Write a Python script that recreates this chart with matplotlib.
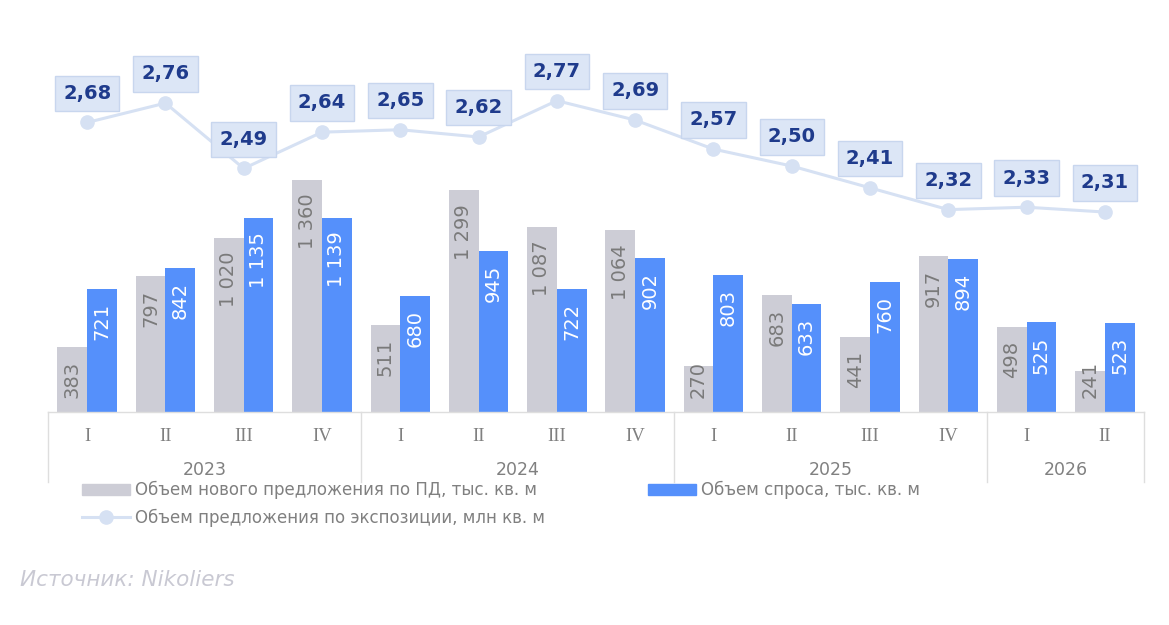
"""
Supply and demand by quarter, with exposure volume line
"""

import numpy as np
import matplotlib.pyplot as plt
from matplotlib.patches import Patch
from matplotlib.lines import Line2D

OUTFILE = "out.png"

GRAY = '#cdcdd6'
BLUE = '#5590fb'
LINE = '#d6e1f3'
BOX_FACE = '#dce6f6'
BOX_EDGE = '#c8d6ee'
NAVY = '#1f3b8c'
TEXT = '#808080'
FRAME = '#dedede'

quarters = ['I', 'II', 'III', 'IV'] * 3 + ['I', 'II']
years = ['2023', '2024', '2025', '2026']
year_sizes = [4, 4, 4, 2]

new_supply = [383, 797, 1020, 1360, 511, 1299, 1087, 1064, 270, 683, 441, 917, 498, 241]
demand = [721, 842, 1135, 1139, 680, 945, 722, 902, 803, 633, 760, 894, 525, 523]
exposure = [2.68, 2.76, 2.49, 2.64, 2.65, 2.62, 2.77, 2.69, 2.57, 2.50, 2.41, 2.32, 2.33, 2.31]

label_supply = 'Объем нового предложения по ПД, тыс. кв. м'
label_demand = 'Объем спроса, тыс. кв. м'
label_exposure = 'Объем предложения по экспозиции, млн кв. м'


def fmt_int(v):
    return f'{v:,}'.replace(',', ' ')


def fmt_dec(v):
    return f'{v:.2f}'.replace('.', ',')


fig = plt.figure(figsize=(11.69, 6.25), dpi=100)
ax = fig.add_axes([48/1169, 1 - 412/625, 1096/1169, 382/625])
ax2 = ax.twinx()

x = np.arange(len(quarters))
W = 0.38
ax.bar(x - W/2, new_supply, W, color=GRAY, zorder=2)
ax.bar(x + W/2, demand, W, color=BLUE, zorder=2)
ax.set_xlim(-0.5, len(quarters) - 0.5)
ax.set_ylim(0, 2239)

# bar labels: inside end, fall back to the base for short bars
px_per_unit = 382 / 2239
for xs, vals, col in ((x - W/2, new_supply, '#7a7a7a'), (x + W/2, demand, 'white')):
    for xi, v in zip(xs, vals):
        s = fmt_int(v)
        need = (len(s) * 12 + 30) / px_per_unit
        if v > need:
            ax.annotate(s, (xi, v), xytext=(0, -10), textcoords='offset points',
                        rotation=90, ha='center', va='top', color=col, fontsize=14, zorder=3)
        else:
            ax.annotate(s, (xi, 0), xytext=(0, 10), textcoords='offset points',
                        rotation=90, ha='center', va='bottom', color=col, fontsize=14, zorder=3)

# exposure line on secondary axis
ax2.plot(x, exposure, color=LINE, lw=2.2, marker='o', ms=9.5, zorder=2)
ax2.set_ylim(1.484, 3.062)
for xi, v in zip(x, exposure):
    ax2.annotate(fmt_dec(v), (xi, v), xytext=(0, 21), textcoords='offset points',
                 ha='center', va='center', color=NAVY, fontsize=14, fontweight='bold',
                 bbox=dict(boxstyle='square,pad=0.42', fc=BOX_FACE, ec=BOX_EDGE, lw=1),
                 zorder=5)

for a in (ax, ax2):
    a.set_yticks([])
    a.set_xticks([])
    for sp in a.spines.values():
        sp.set_visible(False)

# category axis frame
tr = ax.get_xaxis_transform()
ax.plot([-0.5, len(quarters) - 0.5], [0, 0], color=FRAME, lw=1, transform=tr, clip_on=False)
edges = np.concatenate([[0], np.cumsum(year_sizes)]) - 0.5
for e in edges:
    ax.plot([e, e], [0, -0.183], color=FRAME, lw=1, transform=tr, clip_on=False)
for xi, q in zip(x, quarters):
    ax.text(xi, -0.065, q, transform=tr, ha='center', va='center',
            family='Liberation Serif', fontsize=13.5, color=TEXT)
for i, y in enumerate(years):
    mid = (edges[i] + edges[i + 1]) / 2
    ax.text(mid, -0.152, y, transform=tr, ha='center', va='center', fontsize=12.5, color=TEXT)

# legend
h_supply = Patch(color=GRAY)
h_demand = Patch(color=BLUE)
h_exposure = Line2D([], [], color=LINE, lw=2.2, marker='o', ms=9.5)
common = dict(frameon=False, fontsize=12, handlelength=2.9, handleheight=0.6,
              handletextpad=0.3, labelspacing=0.55, borderpad=0, borderaxespad=0,
              labelcolor=TEXT, loc='upper left')
fig.legend([h_supply, h_exposure], [label_supply, label_exposure],
           bbox_to_anchor=(82/1169, 1 - 481/625), **common)
fig.legend([h_demand], [label_demand], bbox_to_anchor=(648/1169, 1 - 481/625), **common)

fig.text(20/1169, 1 - 580/625, 'Источник: Nikoliers', style='italic', color='#c9c9d3',
         fontsize=15.5, va='center', ha='left')

fig.savefig(OUTFILE, dpi=100)
